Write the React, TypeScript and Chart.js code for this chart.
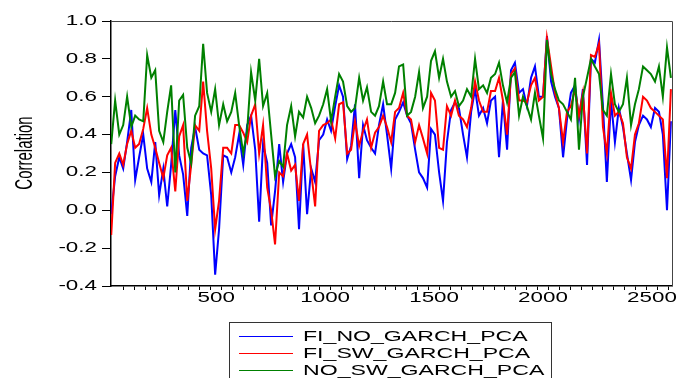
import React, { useEffect, useRef } from "react";
import { Chart, registerables } from "chart.js";

Chart.register(...registerables);

const FI_NO_GARCH_PCA = [
  -0.02, 0.18, 0.28, 0.22, 0.36, 0.53, 0.16, 0.28, 0.40, 0.22, 0.15, 0.36, 0.08, 0.22, 0.02, 0.24, 0.53, 0.29, 0.19, -0.03,
  0.33, 0.44, 0.32, 0.30, 0.29, 0.08, -0.34, -0.10, 0.29, 0.28, 0.20, 0.28, 0.40, 0.24, 0.45, 0.50, 0.32, -0.06, 0.35, 0.25,
  -0.08, 0.10, 0.35, 0.15, 0.30, 0.35, 0.28, -0.10, 0.35, -0.02, 0.22, 0.15, 0.37, 0.40, 0.48, 0.42, 0.55, 0.66, 0.60, 0.27,
  0.34, 0.56, 0.17, 0.45, 0.37, 0.33, 0.30, 0.45, 0.56, 0.40, 0.22, 0.48, 0.52, 0.57, 0.50, 0.46, 0.32, 0.20, 0.17, 0.12,
  0.43, 0.40, 0.20, 0.05, 0.36, 0.53, 0.57, 0.54, 0.40, 0.28, 0.52, 0.64, 0.50, 0.54, 0.46, 0.58, 0.60, 0.28, 0.58, 0.32,
  0.74, 0.78, 0.62, 0.64, 0.55, 0.70, 0.76, 0.60, 0.60, 0.92, 0.68, 0.60, 0.54, 0.28, 0.48, 0.62, 0.66, 0.48, 0.64, 0.24,
  0.80, 0.78, 0.90, 0.55, 0.15, 0.58, 0.36, 0.54, 0.44, 0.30, 0.16, 0.36, 0.45, 0.50, 0.48, 0.44, 0.54, 0.52, 0.40, 0.00, 0.47,
];
const FI_SW_GARCH_PCA = [
  -0.13, 0.25, 0.30, 0.24, 0.35, 0.42, 0.33, 0.35, 0.43, 0.54, 0.40, 0.33, 0.25, 0.17, 0.29, 0.33, 0.10, 0.39, 0.45, 0.05,
  0.24, 0.45, 0.42, 0.68, 0.42, 0.22, -0.10, 0.05, 0.33, 0.33, 0.30, 0.45, 0.45, 0.41, 0.36, 0.50, 0.56, 0.30, 0.45, 0.12,
  0.00, -0.18, 0.20, 0.18, 0.30, 0.21, 0.24, 0.05, 0.35, 0.40, 0.20, 0.02, 0.42, 0.45, 0.46, 0.48, 0.38, 0.56, 0.57, 0.30,
  0.32, 0.47, 0.34, 0.42, 0.48, 0.33, 0.41, 0.44, 0.50, 0.44, 0.36, 0.52, 0.54, 0.62, 0.50, 0.48, 0.36, 0.45, 0.38, 0.30,
  0.62, 0.58, 0.33, 0.32, 0.55, 0.50, 0.58, 0.50, 0.48, 0.44, 0.54, 0.68, 0.58, 0.52, 0.52, 0.63, 0.63, 0.70, 0.58, 0.40,
  0.72, 0.75, 0.58, 0.58, 0.57, 0.66, 0.70, 0.58, 0.60, 0.91, 0.76, 0.62, 0.54, 0.36, 0.52, 0.55, 0.64, 0.50, 0.62, 0.30,
  0.82, 0.81, 0.88, 0.44, 0.30, 0.62, 0.50, 0.52, 0.46, 0.28, 0.22, 0.40, 0.46, 0.60, 0.58, 0.54, 0.52, 0.50, 0.48, 0.17, 0.64,
];
const NO_SW_GARCH_PCA = [
  0.35, 0.58, 0.40, 0.45, 0.60, 0.44, 0.50, 0.48, 0.47, 0.82, 0.70, 0.74, 0.42, 0.36, 0.52, 0.66, 0.20, 0.58, 0.61, 0.33,
  0.25, 0.50, 0.55, 0.88, 0.62, 0.52, 0.64, 0.45, 0.56, 0.47, 0.52, 0.62, 0.45, 0.30, 0.42, 0.73, 0.58, 0.80, 0.55, 0.62,
  0.40, 0.18, 0.26, 0.23, 0.45, 0.55, 0.39, 0.52, 0.49, 0.60, 0.54, 0.46, 0.50, 0.56, 0.64, 0.47, 0.60, 0.72, 0.68, 0.55,
  0.52, 0.54, 0.70, 0.58, 0.65, 0.52, 0.50, 0.55, 0.68, 0.56, 0.56, 0.62, 0.76, 0.77, 0.50, 0.52, 0.60, 0.73, 0.54, 0.60,
  0.79, 0.84, 0.70, 0.80, 0.68, 0.60, 0.63, 0.55, 0.58, 0.64, 0.60, 0.80, 0.64, 0.66, 0.62, 0.70, 0.72, 0.78, 0.66, 0.57,
  0.70, 0.73, 0.50, 0.60, 0.55, 0.48, 0.62, 0.50, 0.38, 0.90, 0.72, 0.64, 0.58, 0.56, 0.52, 0.48, 0.70, 0.32, 0.60, 0.70,
  0.80, 0.76, 0.72, 0.53, 0.50, 0.72, 0.56, 0.52, 0.56, 0.70, 0.45, 0.56, 0.64, 0.76, 0.74, 0.72, 0.68, 0.76, 0.60, 0.86, 0.70,
];

const SERIES_NAMES = ["FI_NO_GARCH_PCA", "FI_SW_GARCH_PCA", "NO_SW_GARCH_PCA"];
const SERIES_COLORS = ["#0000ff", "#ff0000", "#008000"];
const SERIES_VALUES = [FI_NO_GARCH_PCA, FI_SW_GARCH_PCA, NO_SW_GARCH_PCA];

// observation index of each sampled point
const OBS_FIRST = 18;
const OBS_STEP = 18.35;
const OBS = FI_NO_GARCH_PCA.map((_, i) => Math.round(OBS_FIRST + i * OBS_STEP));

const X_MIN = 17;
const X_MAX = 2592;
const X_LABELS = [500, 1000, 1500, 2000, 2500];
const X_TICK_MARKS = Array.from({ length: 51 }, (_, i) => 75 + i * 50);
const Y_MIN = -0.4;
const Y_MAX = 1.0;
const Y_STEP = 0.2;
const Y_TITLE = "Correlation";

const FONT = '"Liberation Sans", Arial, Helvetica, sans-serif';
const STRETCH = 1.6;

function stretchedText(ctx: CanvasRenderingContext2D, text: string, x: number, y: number, align: CanvasTextAlign, sx: number) {
  ctx.save();
  ctx.translate(x, y);
  ctx.scale(sx, 1);
  ctx.textAlign = align;
  ctx.textBaseline = "middle";
  ctx.fillText(text, 0, 0);
  ctx.restore();
}

const decorPlugin = {
  id: "decor",
  afterDraw(chart: any) {
    const ctx: CanvasRenderingContext2D = chart.ctx;
    const { left, top, right, bottom } = chart.chartArea;
    const xs = chart.scales.x;
    const ys = chart.scales.y;
    ctx.save();
    // top and right frame
    ctx.strokeStyle = "#444";
    ctx.lineWidth = 1;
    ctx.beginPath();
    ctx.moveTo(left, top + 0.5);
    ctx.lineTo(right + 0.5, top + 0.5);
    ctx.lineTo(right + 0.5, bottom);
    ctx.stroke();

    ctx.fillStyle = "#000";
    ctx.font = `14px ${FONT}`;
    // y tick labels
    ys.ticks.forEach((t: any) => {
      const v = Math.abs(t.value) < 1e-9 ? 0 : t.value;
      stretchedText(ctx, v.toFixed(1), left - 14, ys.getPixelForValue(t.value), "right", STRETCH);
    });
    // x tick labels
    X_LABELS.forEach((v) => {
      stretchedText(ctx, String(v), xs.getPixelForValue(v), bottom + 12, "center", STRETCH);
    });
    // y title
    ctx.font = `15px ${FONT}`;
    ctx.save();
    ctx.translate(25, (top + bottom) / 2 - 0.5);
    ctx.scale(STRETCH, 1);
    ctx.rotate(-Math.PI / 2);
    ctx.textAlign = "center";
    ctx.textBaseline = "middle";
    ctx.fillText(Y_TITLE, 0, 0);
    ctx.restore();

    // legend box
    const lx = 229.5;
    const ly = 322.5;
    ctx.strokeStyle = "#333";
    ctx.lineWidth = 1;
    ctx.strokeRect(lx, ly, 322, 80);
    ctx.font = `15px ${FONT}`;
    SERIES_NAMES.forEach((name, i) => {
      const ry = 336.5 + i * 17;
      ctx.strokeStyle = SERIES_COLORS[i];
      ctx.lineWidth = 1;
      ctx.beginPath();
      ctx.moveTo(239, ry);
      ctx.lineTo(293, ry);
      ctx.stroke();
      ctx.fillStyle = "#000";
      stretchedText(ctx, name, 303, ry, "left", 1.54);
    });
    ctx.restore();
  },
};

export default function App() {
  const canvasRef = useRef<HTMLCanvasElement | null>(null);

  useEffect(() => {
    const canvas = canvasRef.current;
    if (!canvas) return;
    const chart = new Chart(canvas, {
      type: "line",
      data: {
        datasets: SERIES_NAMES.map((name, i) => ({
          label: name,
          data: OBS.map((x, j) => ({ x, y: SERIES_VALUES[i][j] })),
          borderColor: SERIES_COLORS[i],
          backgroundColor: SERIES_COLORS[i],
          borderWidth: 2,
          pointRadius: 0,
          tension: 0,
          fill: false,
          order: 2 - i,
        })),
      },
      options: {
        responsive: false,
        animation: false,
        devicePixelRatio: 1,
        layout: { padding: { left: 111, right: 15, top: 21, bottom: 92 } },
        plugins: { legend: { display: false }, tooltip: { enabled: false } },
        scales: {
          x: {
            type: "linear",
            min: X_MIN,
            max: X_MAX,
            afterBuildTicks: (scale: any) => {
              scale.ticks = X_TICK_MARKS.map((value) => ({ value }));
            },
            afterFit: (scale: any) => {
              scale.height = 0;
            },
            ticks: { display: false },
            grid: { drawOnChartArea: false, drawTicks: true, tickLength: 4, color: "#000", lineWidth: 1 },
            border: { display: true, color: "#000", width: 1.5 },
          },
          y: {
            type: "linear",
            min: Y_MIN,
            max: Y_MAX,
            ticks: { display: false, stepSize: Y_STEP },
            afterFit: (scale: any) => {
              scale.width = 0;
            },
            grid: { drawOnChartArea: false, drawTicks: true, tickLength: 9, color: "#000", lineWidth: 1 },
            border: { display: true, color: "#000", width: 1.5 },
          },
        },
      },
      plugins: [decorPlugin],
    });
    return () => chart.destroy();
  }, []);

  return (
    <div style={{ position: "fixed", left: 0, top: 0, width: 687, height: 378, background: "#fff" }}>
      <canvas ref={canvasRef} width={687} height={378} style={{ display: "block" }} />
    </div>
  );
}
